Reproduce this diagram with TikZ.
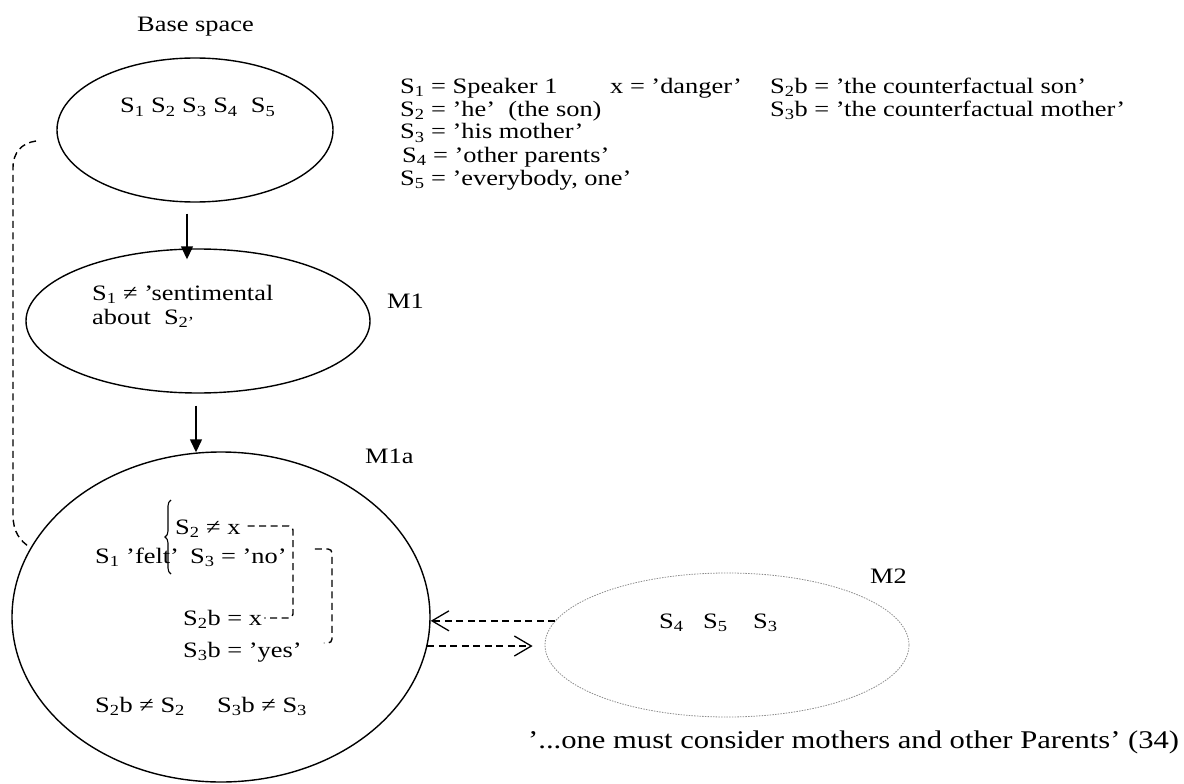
\documentclass[tikz,border=0pt]{standalone}
\usepackage{fontspec}
\setmainfont{Liberation Serif}[FakeStretch=1.2]
\usetikzlibrary{arrows.meta,decorations.pathreplacing,shapes.geometric}
\newcommand\ssb[1]{\textsubscript{#1}}
\begin{document}
\begin{tikzpicture}[x=1pt,y=-1pt,
  txt/.style={inner sep=0pt, anchor=base west, font=\fontsize{22}{24}\selectfont},
  bigtxt/.style={inner sep=0pt, anchor=base west, font=\fontsize{25.5}{28}\selectfont},
  space/.style={draw, ellipse, line width=1.4pt, inner sep=0pt},
  hyp/.style={draw=gray!90, ellipse, line width=0.8pt, dash pattern=on 1.5pt off 1.2pt, inner sep=0pt},
  flow/.style={line width=1.4pt, -{Triangle[length=13pt,width=12pt]}},
  link/.style={line width=1.4pt, dash pattern=on 7pt off 4.5pt},
  barb/.style={link, -{Straight Barb[length=17pt,width=20pt,line width=1.3pt]}},
]
\useasboundingbox (0,0) rectangle (1184,784);

% mental spaces
\node[space, minimum width=276pt, minimum height=144pt] (base) at (195,130) {};
\node[space, minimum width=344pt, minimum height=144pt] (m1) at (198,321) {};
\node[space, minimum width=418pt, minimum height=330pt] (m1a) at (221,617) {};
\node[hyp, minimum width=364pt, minimum height=144pt] (m2) at (727,645) {};

% space labels
\node[txt] (lbase) at (137,32) {Base space};
\node[txt] (lm1) at (387,308) {M1};
\node[txt] (lm1a) at (365,463) {M1a};
\node[txt] (lm2) at (870,583) {M2};

% base space content
\node[txt] (bt) at (120,113) {S\ssb{1} S\ssb{2} S\ssb{3} S\ssb{4}\ \ S\ssb{5}};

% key
\node[txt] (k1) at (400,93) {S\ssb{1} = Speaker 1};
\node[txt] (k2) at (400,116) {S\ssb{2} = ’he’\ \ (the son)};
\node[txt] (k3) at (400,139) {S\ssb{3} = ’his mother’};
\node[txt] (k4) at (402,162) {S\ssb{4} = ’other parents’};
\node[txt] (k5) at (400,185) {S\ssb{5} = ’everybody, one’};
\node[txt] (kx) at (610,93) {x = ’danger’};
\node[txt] (k2b) at (770,93) {S\ssb{2}b = ’the counterfactual son’};
\node[txt] (k3b) at (770,116) {S\ssb{3}b = ’the counterfactual mother’};

% M1 content
\node[txt] (m1t1) at (92,300) {S\ssb{1} ≠ ’sentimental};
\node[txt] (m1t2) at (92,324) {about\ \ S\ssb{2’}};

% M1a content
\node[txt] (felt) at (95,563) {S\ssb{1} ’felt’};
\node[txt] (s2x) at (175,534) {S\ssb{2} ≠ x};
\node[txt] (s3no) at (190,563) {S\ssb{3} = ’no’};
\node[txt] (s2bx) at (183,625) {S\ssb{2}b = x};
\node[txt] (s3b) at (183,657) {S\ssb{3}b = ’yes’};
\node[txt] (ne1) at (95,712) {S\ssb{2}b ≠ S\ssb{2}};
\node[txt] (ne2) at (217,712) {S\ssb{3}b ≠ S\ssb{3}};
\draw[line width=1.1pt, decorate, decoration={brace, amplitude=6pt}] (171,574) -- (171,500);

% M2 content
\node[txt] (m2a) at (659,628) {S\ssb{4}};
\node[txt] (m2b) at (703,628) {S\ssb{5}};
\node[txt] (m2c) at (753,628) {S\ssb{3}};

% quotation
\node[bigtxt] (quote) at (528,748) {’...one must consider mothers and other Parents’ (34)};

% flow between spaces
\draw[flow] ([xshift=-8pt,yshift=-11pt]base.south) -- ([xshift=-11pt,yshift=-11pt]m1.north);
\draw[flow] ([xshift=-2pt,yshift=-12pt]m1.south) -- ([xshift=-25pt,yshift=-1pt]m1a.north);

% counterpart links
\draw[link, rounded corners=4pt] ([xshift=7pt,yshift=8pt]s2x.base east) -| (293,618) -- ([xshift=2pt,yshift=7pt]s2bx.base east);
\draw[link, rounded corners=4pt] ([xshift=28pt,yshift=14pt]s3no.base east) -| (332,643) -- ([xshift=22pt,yshift=14pt]s3b.base east);

% base space to M1a
\coordinate (lk0) at (36,141);
\draw[link] (lk0) .. controls (22,143) and (13,152) .. (13,168) -- (13,515) .. controls (13,532) and (20,541) .. (m1a.160);

% M1a <-> M2
\draw[barb] (m2.172) -- (m2.172 -| m1a.east);
\draw[barb, shorten >=12pt] (m1a.352) -- (m1a.352 -| m2.west);
\end{tikzpicture}
\end{document}
